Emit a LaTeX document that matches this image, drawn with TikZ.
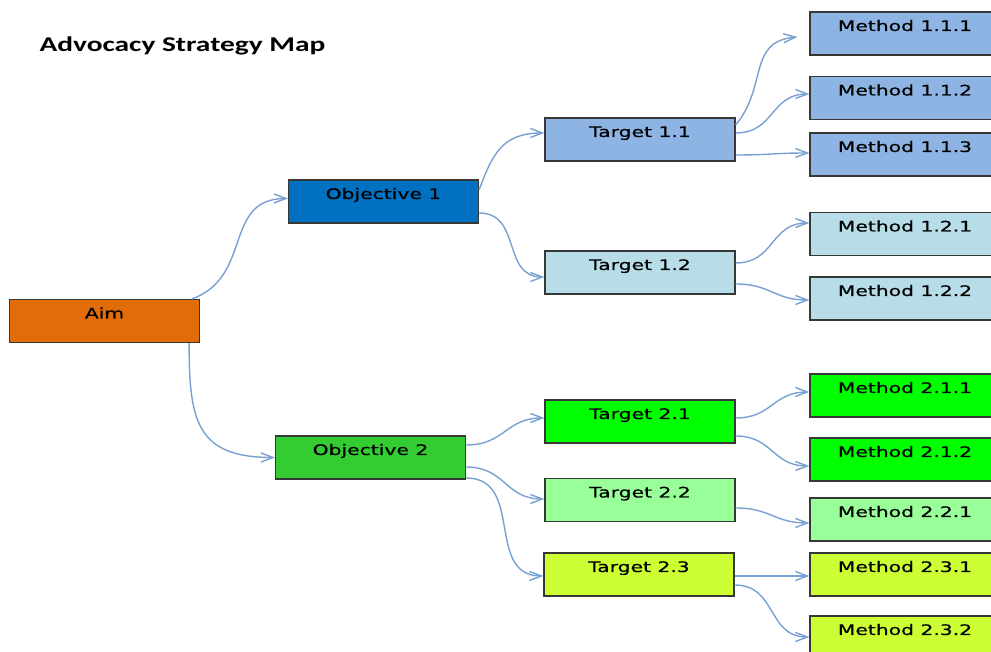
\documentclass[tikz,border=0pt]{standalone}
\usepackage{fontspec}
\newfontfamily\boxfont{DejaVu Sans}[FakeStretch=1.4,FakeBold=0.6]
\newfontfamily\titlefont{Carlito}[FakeStretch=1.4]
\usetikzlibrary{arrows.meta}
\definecolor{aimorange}{RGB}{227,108,10}
\definecolor{objblue}{RGB}{0,112,192}
\definecolor{objgreen}{RGB}{51,204,51}
\definecolor{tblue}{RGB}{142,180,227}
\definecolor{tcyan}{RGB}{183,221,232}
\definecolor{tgreen}{RGB}{0,255,0}
\definecolor{tmint}{RGB}{153,255,153}
\definecolor{tlime}{RGB}{204,255,51}
\definecolor{linkblue}{RGB}{120,160,210}
\definecolor{edgegray}{RGB}{55,55,55}

\begin{document}
\begin{tikzpicture}[x=1pt,y=1pt,
    stratbox/.style={rectangle, draw=edgegray, line width=1.2pt, inner sep=0pt, minimum width=190pt,
        text height=19pt, text depth=24pt, font=\boxfont\fontsize{14.5}{16}\selectfont},
    link/.style={draw=linkblue, line width=1.4pt, looseness=1.2, -{Straight Barb[length=12pt,width=9pt]}}]
    \useasboundingbox (0,0) rectangle (991,652);
    \clip (0,0) rectangle (991,652);
    \node[anchor=base west, font=\titlefont\bfseries\fontsize{21}{24}\selectfont] (title) at (36,600) {Advocacy Strategy Map};
    % aim and objectives
    \node[stratbox, fill=aimorange] (aim) at (104.5,331) {Aim};
    \node[stratbox, fill=objblue] (obj1) at (383.5,450.5) {Objective 1};
    \node[stratbox, fill=objgreen] (obj2) at (370.5,194.5) {Objective 2};
    % targets
    \node[stratbox, fill=tblue] (t11) at (640,512.5) {Target 1.1};
    \node[stratbox, fill=tcyan] (t12) at (640,379.5) {Target 1.2};
    \node[stratbox, fill=tgreen] (t21) at (640,230.5) {Target 2.1};
    \node[stratbox, fill=tmint] (t22) at (640,152) {Target 2.2};
    \node[stratbox, fill=tlime] (t23) at (639,77.5) {Target 2.3};
    % methods
    \node[stratbox, fill=tblue] (m111) at (905,618.5) {Method 1.1.1};
    \node[stratbox, fill=tblue] (m112) at (905,554) {Method 1.1.2};
    \node[stratbox, fill=tblue] (m113) at (905,497.5) {Method 1.1.3};
    \node[stratbox, fill=tcyan] (m121) at (905,418) {Method 1.2.1};
    \node[stratbox, fill=tcyan] (m122) at (905,353.5) {Method 1.2.2};
    \node[stratbox, fill=tgreen] (m211) at (905,256.5) {Method 2.1.1};
    \node[stratbox, fill=tgreen] (m212) at (905,192.5) {Method 2.1.2};
    \node[stratbox, fill=tmint] (m221) at (905,132.5) {Method 2.2.1};
    \node[stratbox, fill=tlime] (m231) at (905,77.5) {Method 2.3.1};
    \node[stratbox, fill=tlime] (m232) at (905,14.5) {Method 2.3.2};
    % links
    \draw[link] ([xshift=-8pt]aim.north east) to[out=20,in=180] ([yshift=3pt]obj1.west);
    \draw[link] ([xshift=-11pt]aim.south east) to[out=-90,in=180,looseness=1.4] (obj2.west);
    \draw[link] ([yshift=11.5pt]obj1.east) to[out=70,in=180] ([yshift=6.5pt]t11.west);
    \draw[link] ([yshift=-11.5pt]obj1.east) to[out=0,in=180] ([yshift=-4.5pt]t12.west);
    \draw[link] ([yshift=12.5pt]obj2.east) to[out=0,in=180] ([yshift=3.5pt]t21.west);
    \draw[link] ([yshift=-9.5pt]obj2.east) to[out=0,in=180] ([yshift=1pt]t22.west);
    \draw[link] ([yshift=-20.5pt]obj2.east) to[out=0,in=180] ([yshift=-1.5pt]t23.west);
    \draw[link] ([yshift=14.5pt]t11.east) to[out=50,in=185] ([xshift=-12pt,yshift=-3.5pt]m111.west);
    \draw[link] ([yshift=6.5pt]t11.east) to[out=0,in=180] ([yshift=4pt]m112.west);
    \draw[link] ([yshift=-15.5pt]t11.east) to[out=0,in=180] ([yshift=1.5pt]m113.west);
    \draw[link] ([yshift=9.5pt]t12.east) to[out=0,in=180] ([yshift=11pt]m121.west);
    \draw[link] ([yshift=-11.5pt]t12.east) to[out=0,in=180] ([yshift=-1.5pt]m122.west);
    \draw[link] ([yshift=3.5pt]t21.east) to[out=0,in=180] ([yshift=3.5pt]m211.west);
    \draw[link] ([yshift=-14.5pt]t21.east) to[out=0,in=180] ([yshift=-6.5pt]m212.west);
    \draw[link] ([yshift=-8pt]t22.east) to[out=0,in=180] ([yshift=-3.5pt]m221.west);
    \draw[link] ([yshift=-1.5pt]t23.east) to[out=0,in=180] ([yshift=-1.5pt]m231.west);
    \draw[link] ([yshift=-10.5pt]t23.east) to[out=0,in=180] ([yshift=0.5pt]m232.west);
\end{tikzpicture}
\end{document}
